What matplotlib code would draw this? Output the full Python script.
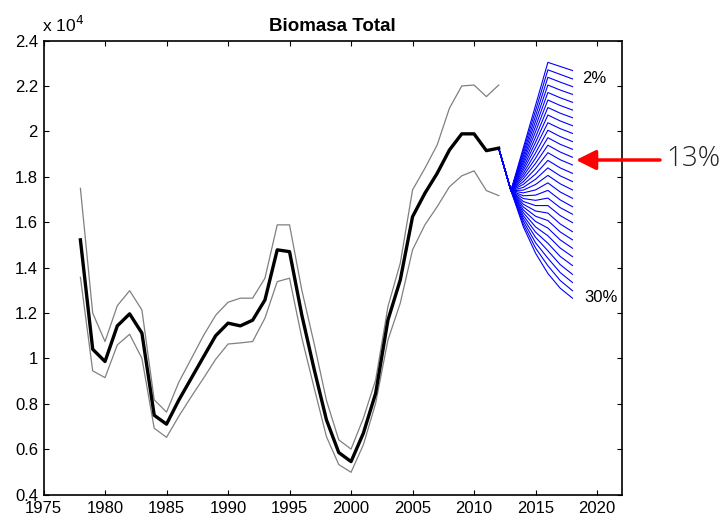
import matplotlib
matplotlib.use('Agg')
import matplotlib.pyplot as plt
from matplotlib.ticker import FuncFormatter

# Estimated biomass (mean and interval), 1978-2012
years = list(range(1978, 2013))
biomass_mean = [15220, 10400, 9860, 11430, 11960, 11110, 7490, 7100, 8160, 9110,
                10060, 11000, 11550, 11430, 11680, 12570, 14780, 14700, 11900, 9520,
                7290, 5850, 5450, 6700, 8460, 11690, 13450, 16240, 17270, 18150,
                19180, 19890, 19890, 19150, 19260]
biomass_upper = [17490, 11990, 10740, 12320, 12980, 12130, 8170, 7630, 8950, 9970,
                 11000, 11900, 12470, 12650, 12650, 13530, 15880, 15880, 13000, 10650,
                 8150, 6410, 6000, 7360, 9050, 12280, 14190, 17420, 18370, 19400,
                 21020, 22000, 22040, 21530, 22040]
biomass_lower = [13570, 9450, 9150, 10590, 11060, 10000, 6920, 6520, 7450, 8300,
                 9120, 9960, 10630, 10680, 10740, 11770, 13380, 13530, 10900, 8700,
                 6550, 5320, 4980, 6190, 8020, 10810, 12430, 14780, 15880, 16680,
                 17560, 18040, 18260, 17390, 17170]

# Projections for harvest rates 2% ... 30%
harvest_rates = list(range(2, 31))
proj_years = [2012, 2013, 2014, 2015, 2016, 2017, 2018]
proj_2013 = 17390
proj_2014 = [19270, 19150, 19020, 18900, 18770, 18650, 18530, 18400, 18280, 18150,
             18030, 17910, 17780, 17660, 17530, 17410, 17290, 17160, 17040, 16910,
             16790, 16670, 16540, 16420, 16290, 16170, 16050, 15920, 15800]
proj_2015 = [21150, 20920, 20680, 20450, 20220, 19990, 19750, 19520, 19290, 19050,
             18820, 18590, 18360, 18120, 17890, 17660, 17420, 17190, 16960, 16730,
             16490, 16260, 16030, 15790, 15560, 15330, 15090, 14860, 14630]
proj_2016 = [23040, 22710, 22380, 22040, 21710, 21380, 21050, 20720, 20380, 20050,
             19720, 19390, 19060, 18720, 18390, 18060, 17730, 17400, 17060, 16730,
             16400, 16070, 15740, 15400, 15070, 14740, 14410, 14080, 13740]
proj_2017 = [22860, 22510, 22170, 21820, 21480, 21140, 20800, 20460, 20120, 19770,
             19430, 19090, 18750, 18390, 18040, 17690, 17330, 16980, 16640, 16290,
             15920, 15570, 15220, 14860, 14490, 14130, 13780, 13430, 13090]
proj_2018 = [22680, 22310, 21970, 21630, 21280, 20940, 20600, 20250, 19910, 19550,
             19210, 18860, 18520, 18150, 17790, 17420, 17050, 16680, 16350, 15980,
             15580, 15220, 14850, 14480, 14090, 13700, 13340, 12980, 12650]

plt.rcParams['font.family'] = ['Liberation Sans', 'DejaVu Sans']

fig = plt.figure(figsize=(7.25, 5.2), dpi=100)
ax = fig.add_axes([0.06, 0.049, 0.7975, 0.873])

# Projection fan
for i, rate in enumerate(harvest_rates):
    ys = [biomass_mean[-1], proj_2013, proj_2014[i], proj_2015[i],
          proj_2016[i], proj_2017[i], proj_2018[i]]
    ax.plot(proj_years, ys, color='blue', lw=0.8)

# Interval and mean
ax.plot(years, biomass_upper, color='gray', lw=0.9)
ax.plot(years, biomass_lower, color='gray', lw=0.9)
ax.plot(years, biomass_mean, color='black', lw=2.4)

ax.set_xlim(1975, 2022)
ax.set_ylim(4000, 24000)
ax.set_xticks(range(1975, 2021, 5))
ax.set_yticks(range(4000, 24001, 2000))
ax.yaxis.set_major_formatter(FuncFormatter(lambda v, p: f'{v / 1e4:g}'))
ax.tick_params(direction='in', length=3.5, width=0.8, top=True, right=True,
               labelsize=12, pad=4)
ax.tick_params(axis='x', pad=5)
for sp in ax.spines.values():
    sp.set_linewidth(1.2)

ax.set_title('Biomasa Total', fontsize=13.5, fontweight='bold', pad=7)
fig.text(0.058, 0.933, r'x 10$^4$', fontsize=12.5, ha='left', va='bottom')

# Rate labels at the ends of the fan
ax.text(2018.8, 22310, '2%', fontsize=12, va='center', ha='left')
ax.text(2019.0, 12680, '30%', fontsize=12, va='center', ha='left')

# Red arrow pointing at the 13% line
ax.annotate('', xy=(576 / 725, 1 - 160 / 520), xytext=(660 / 725, 1 - 160 / 520),
            xycoords='figure fraction', textcoords='figure fraction',
            annotation_clip=False,
            arrowprops=dict(arrowstyle='-|>,head_length=0.6,head_width=0.3',
                            color='red', lw=2.5, mutation_scale=20,
                            shrinkA=0, shrinkB=0))
fig.text(666 / 725, 1 - 159 / 520, '13%', fontsize=20, color='#222222',
         family=['Open Sans', 'DejaVu Sans'], fontweight='light',
         ha='left', va='center')

fig.savefig('out.png', dpi=100)
